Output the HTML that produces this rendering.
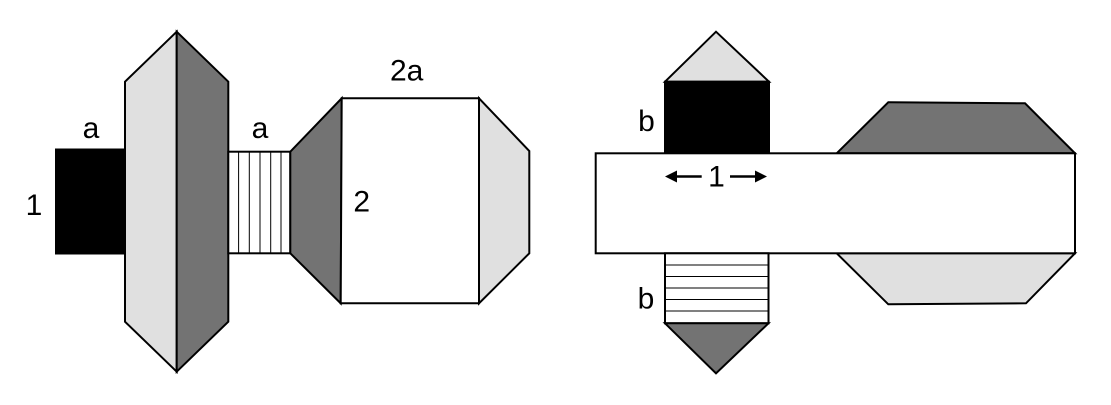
<!DOCTYPE html>
<html><head><meta charset="utf-8"><style>
html,body{margin:0;padding:0;background:#fff;}
svg{display:block;}
text{font-family:"Liberation Sans",Arial,sans-serif;font-size:30px;fill:#000;}
</style></head><body>
<svg width="1111" height="405" viewBox="0 0 1111 405" xmlns="http://www.w3.org/2000/svg">
<g stroke="#000" stroke-width="2" stroke-linejoin="miter">
  <!-- left figure -->
  <rect x="56" y="149.5" width="69" height="104" fill="#000"/>
  <polygon points="125,81.7 176.7,31.7 176.7,371.7 125,321.7" fill="#e0e0e0"/>
  <polygon points="228.3,81.7 176.7,31.7 176.7,371.7 228.3,321.7" fill="#737373"/>
  <rect x="228.3" y="151.7" width="62" height="101.6" fill="#fff"/>
  <g stroke-width="1">
    <line x1="238.6" y1="151.7" x2="238.6" y2="253.3"/>
    <line x1="249.3" y1="151.7" x2="249.3" y2="253.3"/>
    <line x1="260" y1="151.7" x2="260" y2="253.3"/>
    <line x1="270.7" y1="151.7" x2="270.7" y2="253.3"/>
    <line x1="281" y1="151.7" x2="281" y2="253.3"/>
  </g>
  <polygon points="290.3,151.7 341.7,98.3 340.7,303.3 290.3,253.3" fill="#737373"/>
  <polygon points="341.7,98.3 479,98.3 479,303.3 340.7,303.3" fill="#fff"/>
  <polygon points="479,98.3 529.3,151 529.3,253.3 479,303.3" fill="#e0e0e0"/>

  <!-- right figure -->
  <polygon points="665,81.7 716,31.7 769,81.7" fill="#e0e0e0"/>
  <rect x="665" y="81.7" width="104" height="71.6" fill="#000"/>
  <polygon points="836.7,153.3 888.3,102.3 1025,103.3 1075,153.3" fill="#737373"/>
  <polygon points="836.7,253.3 888.3,304.3 1026,303.3 1075,253.3" fill="#e0e0e0"/>
  <rect x="595.7" y="153.3" width="479.3" height="100" fill="#fff"/>
  <rect x="665" y="253.3" width="103.5" height="70" fill="#fff"/>
  <g stroke-width="1">
    <line x1="665" y1="265" x2="768.5" y2="265"/>
    <line x1="665" y1="276.5" x2="768.5" y2="276.5"/>
    <line x1="665" y1="288" x2="768.5" y2="288"/>
    <line x1="665" y1="299.5" x2="768.5" y2="299.5"/>
    <line x1="665" y1="311" x2="768.5" y2="311"/>
  </g>
  <polygon points="665,323.3 768.5,323.3 716,373.3" fill="#737373"/>

  <!-- arrows -->
  <line x1="672" y1="176.5" x2="701.7" y2="176.5" stroke-width="2.5"/>
  <line x1="730" y1="176.5" x2="759" y2="176.5" stroke-width="2.5"/>
</g>
<polygon points="665,176.5 677,170.5 677,182.5" fill="#000"/>
<polygon points="767,176.5 755,170.5 755,182.5" fill="#000"/>

<text x="91" y="138" text-anchor="middle">a</text>
<text x="260" y="138" text-anchor="middle">a</text>
<text x="34" y="215" text-anchor="middle">1</text>
<text x="406.7" y="80.5" text-anchor="middle">2a</text>
<text x="361.7" y="211.5" text-anchor="middle">2</text>
<text x="646.5" y="131" text-anchor="middle">b</text>
<text x="646" y="308.3" text-anchor="middle">b</text>
<text x="716.5" y="186.5" text-anchor="middle">1</text>
</svg>
</body></html>
